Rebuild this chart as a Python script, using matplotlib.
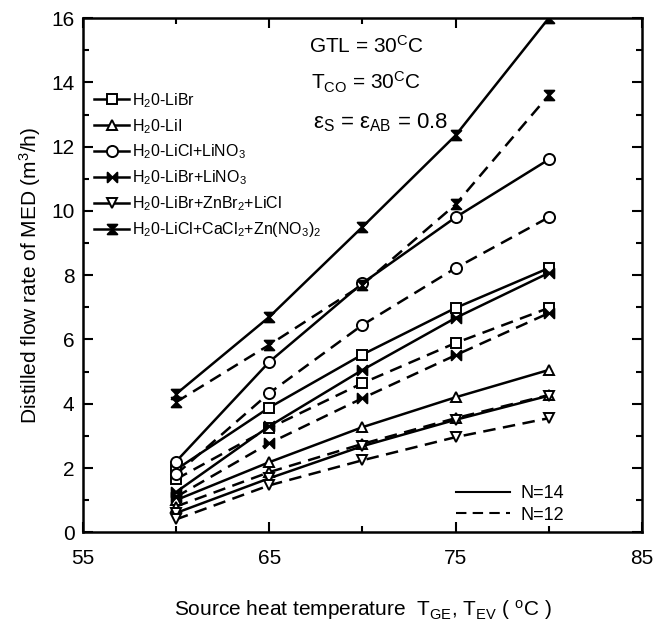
import matplotlib
matplotlib.use("Agg")
import matplotlib.pyplot as plt
from matplotlib import font_manager
from matplotlib.path import Path
from matplotlib.lines import Line2D

# narrow font if available
names = {f.name for f in font_manager.fontManager.ttflist}
NARROW = "Liberation Sans Narrow" if "Liberation Sans Narrow" in names else "Liberation Sans"
plt.rcParams['font.family'] = [NARROW, 'DejaVu Sans']
plt.rcParams['mathtext.fontset'] = 'custom'
plt.rcParams['mathtext.rm'] = NARROW
plt.rcParams['mathtext.it'] = NARROW
plt.rcParams['mathtext.default'] = 'rm'

# -----------------------------------------------------------------------------
# Data
# -----------------------------------------------------------------------------
temps = [60, 65, 70, 75, 80]

labels = [
    r"H$_2$0-LiBr",
    r"H$_2$0-LiI",
    r"H$_2$0-LiCl+LiNO$_3$",
    r"H$_2$0-LiBr+LiNO$_3$",
    r"H$_2$0-LiBr+ZnBr$_2$+LiCl",
    r"H$_2$0-LiCl+CaCl$_2$+Zn(NO$_3$)$_2$",
]

libr_n14 = [1.95, 3.88, 5.53, 6.98, 8.22]
libr_n12 = [1.65, 3.24, 4.64, 5.89, 6.98]
lii_n14 = [1.0, 2.18, 3.27, 4.2, 5.05]
lii_n12 = [0.8, 1.87, 2.75, 3.55, 4.27]
licl_n14 = [2.2, 5.3, 7.75, 9.8, 11.6]
licl_n12 = [1.8, 4.33, 6.45, 8.22, 9.8]
lino3_n14 = [1.25, 3.3, 5.05, 6.67, 8.07]
lino3_n12 = [1.1, 2.77, 4.17, 5.51, 6.82]
znbr_n14 = [0.6, 1.68, 2.68, 3.5, 4.25]
znbr_n12 = [0.4, 1.46, 2.24, 2.96, 3.55]
cacl_n14 = [4.3, 6.7, 9.5, 12.35, 16.0]
cacl_n12 = [4.05, 5.83, 7.7, 10.2, 13.6]

series_n14 = [libr_n14, lii_n14, licl_n14, lino3_n14, znbr_n14, cacl_n14]
series_n12 = [libr_n12, lii_n12, licl_n12, lino3_n12, znbr_n12, cacl_n12]

# custom markers
hourglass = Path([(-1, 1), (1, 1), (-1, -1), (1, -1), (-1, 1)],
                 [Path.MOVETO, Path.LINETO, Path.LINETO, Path.LINETO, Path.CLOSEPOLY])
bowtie = Path([(-1, 1), (-1, -1), (1, 1), (1, -1), (-1, 1)],
              [Path.MOVETO, Path.LINETO, Path.LINETO, Path.LINETO, Path.CLOSEPOLY])

styles = [
    dict(marker="s", mfc="white", ms=6.5),
    dict(marker="^", mfc="white", ms=6.5),
    dict(marker="o", mfc="white", ms=8),
    dict(marker=bowtie, mfc="black", ms=7),
    dict(marker="v", mfc="white", ms=6.5),
    dict(marker=hourglass, mfc="black", ms=7),
]

# -----------------------------------------------------------------------------
# Figure
# -----------------------------------------------------------------------------
fig = plt.figure(figsize=(6.68, 6.24), dpi=100)
ax = fig.add_axes([0.124, 0.147, 0.837, 0.824])

for lab, y14, y12, st in zip(labels, series_n14, series_n12, styles):
    ax.plot(temps, y14, color="black", lw=1.8, mec="black", mew=1.4,
            label=lab, **st)
    ax.plot(temps, y12, color="black", lw=1.8, ls=(0, (5, 3)), mec="black",
            mew=1.4, **st)

ax.set_xlim(55, 85)
ax.set_ylim(0, 16)
ax.set_xticks([55, 65, 75, 85])
ax.set_xticks([60, 70, 80], minor=True)
ax.set_yticks(range(0, 17, 2))
ax.set_yticks(range(1, 16, 2), minor=True)
ax.tick_params(which="both", direction="in", top=True, right=True,
               labelsize=15, width=1.5)
ax.tick_params(which="major", length=7)
ax.tick_params(which="minor", length=4)
ax.tick_params(axis="x", which="major", pad=12)
ax.tick_params(axis="y", which="major", pad=6)
for sp in ax.spines.values():
    sp.set_linewidth(1.8)

ax.set_xlabel(r"Source heat temperature  T$_{GE}$, T$_{EV}$ ( $^{o}$C )",
              fontsize=15, labelpad=22)
ax.set_ylabel(r"Distilled flow rate of MED (m$^{3}$/h)", fontsize=15, labelpad=6)

leg1 = ax.legend(loc="upper left", bbox_to_anchor=(0.0, 0.88), frameon=False,
                 fontsize=11.5, handlelength=2.2, handletextpad=0.2,
                 labelspacing=0.45, borderaxespad=0.3)
ax.add_artist(leg1)

n_handles = [Line2D([], [], color="black", lw=1.5),
             Line2D([], [], color="black", lw=1.5, ls=(0, (5, 3)))]
ax.legend(n_handles, ["N=14", "N=12"], loc="lower right",
          bbox_to_anchor=(0.89, -0.015), frameon=False, fontsize=13,
          handlelength=3.0, handletextpad=0.6, labelspacing=0.25)

ax.text(70.2, 15.15, r"GTL = 30$^{C}$C", ha="center", va="center", fontsize=15)
ax.text(70.2, 14.0, r"T$_{CO}$ = 30$^{C}$C", ha="center", va="center", fontsize=15)
ax.text(71.0, 12.75, r"$\varepsilon_S$ = $\varepsilon_{AB}$ = 0.8",
        ha="center", va="center", fontsize=16)

fig.savefig("out.png", dpi=100)
